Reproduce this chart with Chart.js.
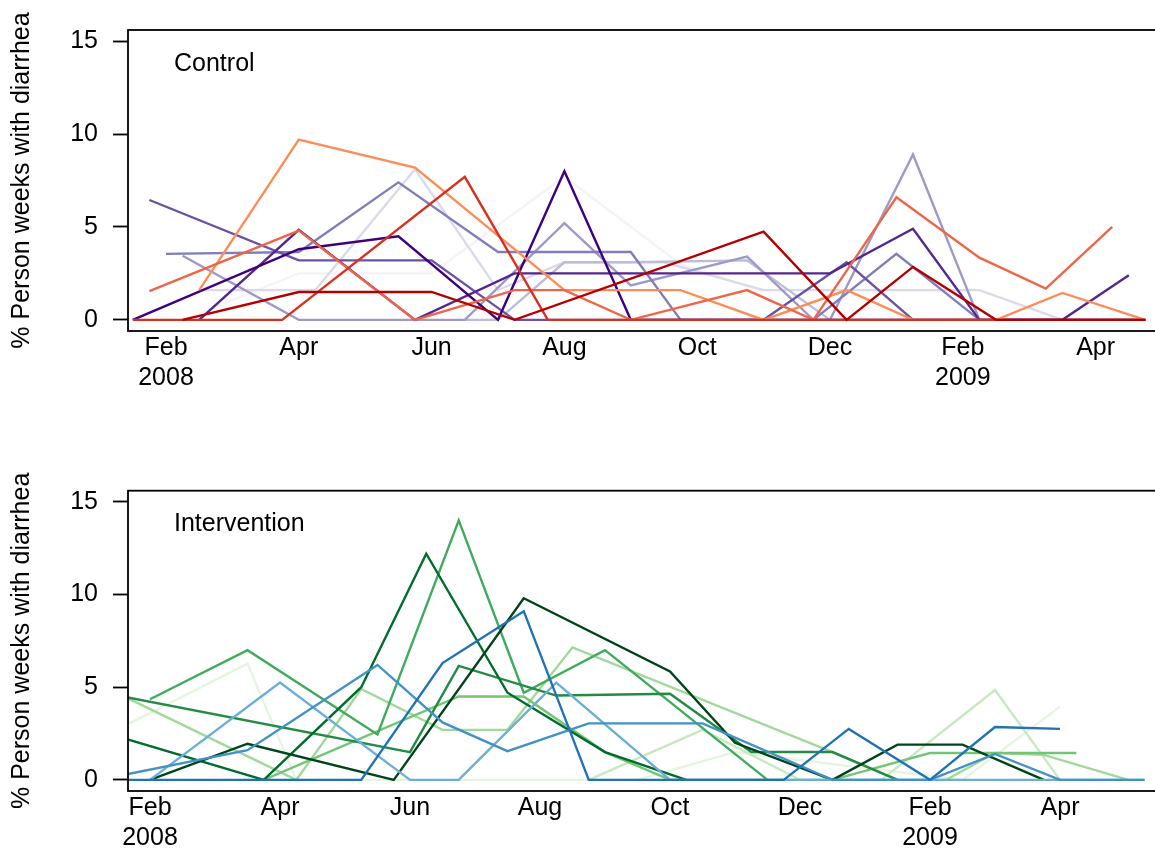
<!DOCTYPE html>
<html><head><meta charset="utf-8">
<script src="https://cdn.jsdelivr.net/npm/chart.js@4.4.1/dist/chart.umd.min.js"></script>
<style>
html,body{margin:0;padding:0;background:#fff;overflow:hidden;width:1155px;height:852px;}
canvas{position:absolute;left:0;}
#c1{top:0;} #c2{top:440px;}
</style></head><body>
<canvas id="c1" width="1157" height="430"></canvas>
<canvas id="c2" width="1157" height="412"></canvas>
<script>
// x values: months since 1 Feb 2008
const tickMonths = [0, 2, 4, 6, 8, 10, 12, 14];
const tickLabels = [['Feb','2008'], 'Apr', 'Jun', 'Aug', 'Oct', 'Dec', ['Feb','2009'], 'Apr'];
const yTicks = [0, 5, 10, 15];
const yTitle = '% Person weeks with diarrhea';

// ---------- Control ----------
const cDarkRedX = [0.25, 2, 4, 5.25, 9, 10.25, 11.25, 12.5, 14.75];
const cDarkRedY = [0, 1.5, 1.5, 0, 4.75, 0, 2.85, 0, 0];
const cRedX = [-0.5, 1.75, 4.5, 5.75, 14.75];
const cRedY = [0, 0, 7.7, 0, 0];
const cRedOrangeX = [-0.25, 2, 3.75, 5.25, 6, 7, 8.75, 9.75, 11, 12.25, 13.25, 14.25];
const cRedOrangeY = [1.55, 4.8, 0, 1.6, 1.6, 0, 1.6, 0, 6.6, 3.35, 1.68, 5.0];
const cOrangeX = [0.5, 2, 3.75, 6, 7.75, 9, 10.25, 11.25, 12.5, 13.5, 14.75];
const cOrangeY = [1.6, 9.7, 8.2, 1.6, 1.6, 0, 1.6, 0, 0, 1.45, 0];
const cPurple9X = [-0.5, 2, 3.5, 5, 6, 7, 14.75];
const cPurple9Y = [0, 3.8, 4.5, 0, 8.0, 0, 0];
const cPurple8X = [0.5, 2, 3.75, 5.25, 10, 11.25, 12.25, 13.5, 14.5];
const cPurple8Y = [0, 4.85, 0, 2.5, 2.5, 4.9, 0, 0, 2.4];
const cPurple7X = [-0.25, 2, 4, 5.25, 9, 10.25, 11.25, 14.75];
const cPurple7Y = [6.45, 3.2, 3.2, 0, 0, 3.1, 0, 0];
const cPurple6X = [0, 2, 3.5, 5, 7, 7.75, 9.75, 11, 12.25];
const cPurple6Y = [3.55, 3.65, 7.4, 3.65, 3.65, 0, 0, 3.55, 0];
const cPurple5X = [0.25, 2, 4.5, 6, 7, 8.75, 9.75, 10, 11.25, 12.25];
const cPurple5Y = [3.45, 0, 0, 5.2, 1.85, 3.4, 0, 0, 8.9, 0];
const cPurple4X = [4.5, 5, 6, 7, 8.75, 10, 12.5];
const cPurple4Y = [0, 0, 3.1, 3.1, 3.2, 0, 0];
const cPurple3X = [0.5, 2.25, 3.75, 5, 6, 7.5, 9, 12.25, 13.5];
const cPurple3Y = [1.6, 1.6, 8.1, 1.6, 3.1, 3.1, 1.6, 1.6, 0];
const cPurple2X = [0.25, 2, 4, 6, 7.75, 9];
const cPurple2Y = [0, 2.5, 2.5, 7.7, 3.0, 1.5];

// ---------- Intervention ----------
const iBlue7X = [-0.5, 3.25, 4.5, 5.75, 6.75, 9.75, 10.75, 12, 13, 14];
const iBlue7Y = [0, 0, 6.3, 9.1, 0, 0, 2.75, 0, 2.85, 2.75];
const iBlue6X = [-0.5, 1.5, 3.5, 4.5, 5.5, 6.75, 8.5, 10.5, 12, 13, 14, 15.3];
const iBlue6Y = [0.21, 1.6, 6.2, 3.1, 1.55, 3.05, 3.05, 0, 0, 1.4, 0, 0];
const iBlue5X = [0, 2, 4, 4.75, 6.25, 8, 15.3];
const iBlue5Y = [0, 5.25, 0, 0, 5.25, 0, 0];
const iGreen9X = [0, 1.5, 3.75, 5.75, 8, 9, 10.5, 11.5, 12.5, 13.75];
const iGreen9Y = [0, 1.95, 0, 9.8, 5.85, 2.0, 0, 1.9, 1.9, 0];
const iGreen8X = [-0.5, 1.75, 3.25, 4.25, 5.5, 7, 8.25];
const iGreen8Y = [2.35, 0, 5.0, 12.2, 4.7, 1.5, 0];
const iGreen7X = [-0.5, 4, 4.75, 6.25, 8, 9.25, 10.5, 11.5];
const iGreen7Y = [4.55, 1.5, 6.15, 4.55, 4.65, 1.5, 1.5, 0];
const iGreen6X = [0, 1.5, 3.5, 4.75, 5.75, 7, 9.5];
const iGreen6Y = [4.35, 7.0, 2.45, 14.0, 4.7, 7.0, 0];
const iGreen5X = [1.75, 4.75, 5.75, 7.0, 8.0, 10.5, 12, 13.25, 14.25];
const iGreen5Y = [0, 4.5, 4.5, 1.5, 0, 0, 1.45, 1.45, 1.45];
const iGreen4X = [-0.5, 2.25, 3.25, 4.5, 5.5, 6.5, 10.5, 11.5, 12.25, 13, 13.75, 15.05];
const iGreen4Y = [4.67, 0, 4.9, 2.7, 2.7, 7.15, 1.5, 0, 0, 1.45, 1.35, 0];
const iGreen3X = [6.75, 8.5, 10.0, 11.25, 13.0, 14.0];
const iGreen3Y = [0, 2.7, 0, 0, 4.85, 0];
const iGreen2X = [-0.5, 1.5, 2.25, 7.5, 9, 12.5, 14];
const iGreen2Y = [2.72, 6.27, 0, 0, 1.5, 0, 3.95];

function pts(xs, ys) { return xs.map((x, i) => ({ x: x, y: ys[i] })); }
function ds(xs, ys, color, w) {
  return { data: pts(xs, ys), borderColor: color, borderWidth: w || 2.4, pointRadius: 0, fill: false, tension: 0 };
}

const controlSets = [
  ds(cDarkRedX, cDarkRedY, '#b30000'),
  ds(cRedX, cRedY, '#d7301f'),
  ds(cRedOrangeX, cRedOrangeY, '#ef6548'),
  ds(cOrangeX, cOrangeY, '#fc8d59'),
  ds(cPurple9X, cPurple9Y, '#3f007d'),
  ds(cPurple8X, cPurple8Y, '#54278f'),
  ds(cPurple7X, cPurple7Y, '#6a51a3'),
  ds(cPurple6X, cPurple6Y, '#807dba'),
  ds(cPurple5X, cPurple5Y, '#9e9ac8'),
  ds(cPurple4X, cPurple4Y, '#bcbddc'),
  ds(cPurple3X, cPurple3Y, '#dadaeb'),
  ds(cPurple2X, cPurple2Y, '#f4f3f8')
];
const interSets = [
  ds(iBlue7X, iBlue7Y, '#2171b5'),
  ds(iBlue6X, iBlue6Y, '#4292c6'),
  ds(iBlue5X, iBlue5Y, '#6baed6'),
  ds(iGreen9X, iGreen9Y, '#00441b'),
  ds(iGreen8X, iGreen8Y, '#006d2c'),
  ds(iGreen7X, iGreen7Y, '#238b45'),
  ds(iGreen6X, iGreen6Y, '#41ab5d'),
  ds(iGreen5X, iGreen5Y, '#74c476'),
  ds(iGreen4X, iGreen4Y, '#a1d99b'),
  ds(iGreen3X, iGreen3Y, '#c7e9c0'),
  ds(iGreen2X, iGreen2Y, '#e5f5e0')
];

const FONT = { family: '"Liberation Sans", Arial, Helvetica, sans-serif', size: 25, lineHeight: 1.2 };

const boxPlugin = {
  id: 'box',
  afterDraw(chart) {
    const a = chart.chartArea, ctx = chart.ctx;
    ctx.save();
    ctx.strokeStyle = '#000'; ctx.lineWidth = 1.8;
    ctx.strokeRect(a.left, a.top, a.right - a.left, a.bottom - a.top);
    const lbl = chart.options.plugins.box.label;
    ctx.fillStyle = '#000';
    ctx.font = FONT.size + 'px ' + FONT.family;
    ctx.textBaseline = 'alphabetic'; ctx.textAlign = 'left';
    ctx.fillText(lbl, a.left + 46, a.top + 40.5);
    ctx.restore();
  }
};

function makeChart(id, sets, label, padTop, xMin, xMax, axisH) {
  return new Chart(document.getElementById(id), {
    type: 'line',
    data: { datasets: sets },
    plugins: [boxPlugin],
    options: {
      responsive: false, animation: false,
      layout: { padding: { top: padTop, left: 0, right: 0, bottom: 0 } },
      plugins: { legend: { display: false }, tooltip: { enabled: false }, box: { label: label } },
      scales: {
        x: {
          type: 'linear', min: xMin, max: xMax,
          afterBuildTicks: s => { s.ticks = tickMonths.map(v => ({ value: v })); },
          afterFit: s => { s.height = axisH; },
          ticks: {
            autoSkip: false, maxRotation: 0, minRotation: 0, padding: 2, color: '#000', font: FONT,
            callback: v => { const i = tickMonths.indexOf(v); return i >= 0 ? tickLabels[i] : ''; }
          },
          grid: { display: false, drawTicks: false },
          border: { display: false }
        },
        y: {
          min: -0.6, max: 15.6,
          afterBuildTicks: s => { s.ticks = yTicks.map(v => ({ value: v })); },
          afterFit: s => { s.width = 128; },
          ticks: { padding: 15, color: '#000', font: FONT },
          grid: { drawOnChartArea: false, drawTicks: true, tickLength: 15, tickWidth: 1.8, tickColor: '#000' },
          border: { display: false },
          title: { display: true, text: yTitle, color: '#000', font: FONT, padding: { top: 7, bottom: 0 } }
        }
      }
    }
  });
}

makeChart('c1', controlSets, 'Control', 30, (128 - 166) / 66.4, (1157 - 166) / 66.4, 99);
makeChart('c2', interSets, 'Intervention', 50.7, (128 - 150) / 65, (1157 - 150) / 65, 61);
</script></body></html>
